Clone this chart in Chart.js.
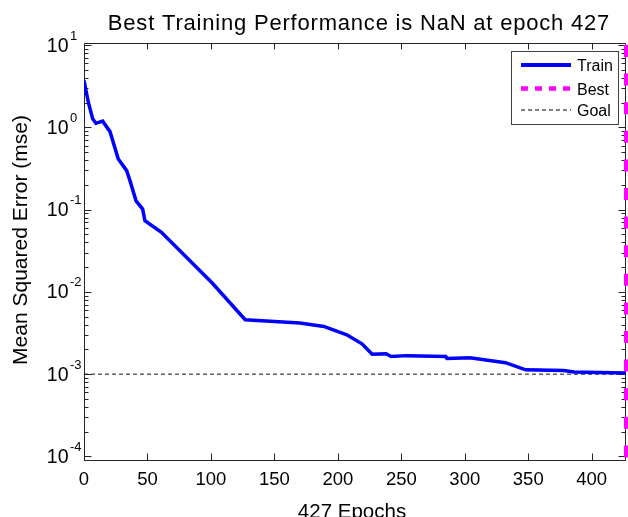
<!DOCTYPE html>
<html>
<head>
<meta charset="utf-8">
<script src="https://cdn.jsdelivr.net/npm/chart.js@4.4.0/dist/chart.umd.min.js"></script>
<style>
  html, body { margin: 0; padding: 0; background: #fff; }
  #wrap { width: 628px; height: 517px; }
</style>
</head>
<body>
<div id="wrap"><canvas id="perf"></canvas></div>
<script>
/* ===== Training performance (MATLAB style plotperform) ===== */
const epochs = [0, 3.4, 6.8, 9.4, 14.7, 20.5, 27, 33.6, 36.2, 41, 46.2, 48, 61, 101, 127,
  170, 189, 207, 219, 227, 238, 242, 254, 285, 286, 304, 332, 348, 378, 386, 427];
const trainMse = [3.7, 2.02, 1.27, 1.12, 1.19, 0.887, 0.413, 0.298, 0.225, 0.128, 0.1016, 0.0733, 0.053, 0.0128, 0.00458,
  0.00418, 0.0038, 0.00301, 0.00234, 0.00175, 0.00177, 0.00164, 0.00168, 0.00164, 0.00155, 0.00158, 0.00138, 0.00113, 0.00111, 0.00106, 0.00103];
const goalMse = 0.001;
const bestEpoch = 427;
const xRange = [0, 427];
const yRange = [8.8e-5, 10.6];
const xTicks = [0, 50, 100, 150, 200, 250, 300, 350, 400];
const yExponents = [-4, -3, -2, -1, 0, 1];
const legendLabels = ['Train', 'Best', 'Goal'];
const titleText = 'Best Training Performance is NaN at epoch 427';
const xTitle = '427 Epochs';
const yTitle = 'Mean Squared Error (mse)';

const FONT = '"Liberation Sans", Arial, Helvetica, sans-serif';
const AXIS_COLOR = '#262626';

// box, inward ticks (drawn under the lines)
const axesBox = {
  id: 'axesBox',
  beforeDatasetsDraw(chart) {
    const { ctx, chartArea: a, scales: { x, y } } = chart;
    const L = Math.round(a.left) + 0.5, R = Math.round(a.right) - 0.5;
    const T = Math.round(a.top) + 0.5, B = Math.round(a.bottom) - 0.5;
    ctx.save();
    ctx.strokeStyle = AXIS_COLOR;
    ctx.lineWidth = 1;
    ctx.beginPath();
    ctx.rect(L, T, R - L, B - T);
    xTicks.forEach(v => {
      const px = Math.round(x.getPixelForValue(v)) + 0.5;
      ctx.moveTo(px, B); ctx.lineTo(px, B - 7);
      ctx.moveTo(px, T); ctx.lineTo(px, T + 6);
    });
    for (let e = -5; e <= 1; e++) {
      for (let m = 1; m <= 9; m++) {
        const v = m * Math.pow(10, e);
        if (v < yRange[0] || v > yRange[1]) continue;
        const py = Math.round(y.getPixelForValue(v)) + 0.5;
        const len = m === 1 ? 7 : 4;
        ctx.moveTo(L, py); ctx.lineTo(L + len, py);
        ctx.moveTo(R, py); ctx.lineTo(R - len, py);
      }
    }
    ctx.stroke();
    ctx.restore();
  }
};

// labels, titles and legend
const axesText = {
  id: 'axesText',
  afterDraw(chart) {
    const { ctx, scales: { x, y } } = chart;
    ctx.save();
    ctx.fillStyle = '#000';

    // x tick labels
    ctx.font = '18.5px ' + FONT;
    ctx.textAlign = 'center';
    ctx.textBaseline = 'alphabetic';
    xTicks.forEach(v => ctx.fillText(String(v), x.getPixelForValue(v), 485));

    // y tick labels 10^n
    yExponents.forEach(e => {
      const py = y.getPixelForValue(Math.pow(10, e));
      ctx.font = '19.5px ' + FONT;
      ctx.textAlign = 'right';
      ctx.fillText('10', 68.5, py + 6.6);
      ctx.font = '13px ' + FONT;
      ctx.textAlign = 'left';
      ctx.fillText(String(e), 70, py - 5.5);
    });

    // title
    ctx.font = '22px ' + FONT;
    ctx.textAlign = 'center';
    if ('letterSpacing' in ctx) ctx.letterSpacing = '0.8px';
    ctx.fillText(titleText, 359, 30);
    if ('letterSpacing' in ctx) ctx.letterSpacing = '0px';

    // x title
    ctx.font = '20.5px ' + FONT;
    ctx.fillText(xTitle, 352, 518);

    // y title
    ctx.save();
    ctx.translate(27, 240);
    ctx.rotate(-Math.PI / 2);
    ctx.font = '21px ' + FONT;
    ctx.fillText(yTitle, 0, 0);
    ctx.restore();

    // legend
    const lx = 511.5, ly = 51.5, lw = 107, lh = 73;
    ctx.fillStyle = '#fff';
    ctx.fillRect(lx, ly, lw, lh);
    ctx.strokeStyle = '#404040';
    ctx.lineWidth = 1;
    ctx.strokeRect(lx, ly, lw, lh);
    const rows = [65, 88.5, 110];
    const styles = [
      { color: '#0000ff', width: 4, dash: [] },
      { color: '#ff00ff', width: 4.5, dash: [7, 7] },
      { color: '#000', width: 1, dash: [4, 3] }
    ];
    legendLabels.forEach((lab, i) => {
      const s = styles[i];
      ctx.strokeStyle = s.color;
      ctx.lineWidth = s.width;
      ctx.setLineDash(s.dash);
      ctx.beginPath();
      ctx.moveTo(521, rows[i]);
      ctx.lineTo(571, rows[i]);
      ctx.stroke();
      ctx.setLineDash([]);
      ctx.fillStyle = '#000';
      ctx.font = '16px ' + FONT;
      ctx.textAlign = 'left';
      ctx.fillText(lab, 577, rows[i] + 6);
    });
    ctx.restore();
  }
};

const ctx = document.getElementById('perf');
new Chart(ctx, {
  type: 'line',
  data: {
    datasets: [
      {
        label: legendLabels[0],
        data: epochs.map((e, i) => ({ x: e, y: trainMse[i] })),
        borderColor: '#0000ff',
        borderWidth: 3.5,
        pointRadius: 0,
        tension: 0,
        order: 1
      },
      {
        label: legendLabels[1],
        data: [{ x: bestEpoch, y: yRange[1] }, { x: bestEpoch, y: yRange[0] }],
        borderColor: '#ff00ff',
        borderWidth: 4,
        borderDash: [12, 16.6],
        borderDashOffset: -2,
        pointRadius: 0,
        clip: false,
        order: 0
      },
      {
        label: legendLabels[2],
        data: [{ x: xRange[0], y: goalMse }, { x: xRange[1], y: goalMse }],
        borderColor: '#111111',
        borderWidth: 1,
        borderDash: [4, 3],
        pointRadius: 0,
        order: 2
      }
    ]
  },
  options: {
    responsive: true,
    maintainAspectRatio: false,
    animation: false,
    devicePixelRatio: 1,
    layout: { padding: { left: 84, right: 2, top: 43, bottom: 56 } },
    plugins: { legend: { display: false }, title: { display: false }, tooltip: { enabled: false } },
    scales: {
      x: { type: 'linear', min: xRange[0], max: xRange[1], display: false },
      y: { type: 'logarithmic', min: yRange[0], max: yRange[1], display: false }
    }
  },
  plugins: [axesBox, axesText]
});
</script>
</body>
</html>
